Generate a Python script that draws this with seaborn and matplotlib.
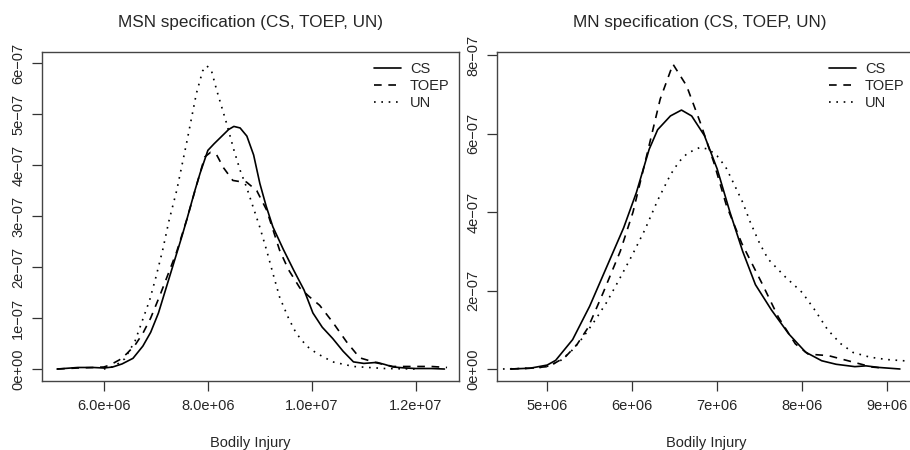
import matplotlib
matplotlib.use('Agg')
import matplotlib.pyplot as plt
import seaborn as sns
import pandas as pd

# density curves (x in 1e6, y in 1e-7)
msn_cs_x = [5.1, 5.5, 5.8, 6.0, 6.17, 6.35, 6.56, 6.75, 6.9, 7.05, 7.2, 7.35, 7.5, 7.6, 7.75,
            7.85, 8.0, 8.12, 8.25, 8.4, 8.5, 8.62, 8.75, 8.88, 9.0, 9.12, 9.25, 9.45, 9.65,
            9.85, 10.02, 10.2, 10.4, 10.6, 10.8, 11.0, 11.25, 11.4, 11.56, 11.8, 12.0, 12.3, 12.55]
msn_cs_y = [0.0, 0.03, 0.03, 0.02, 0.04, 0.1, 0.21, 0.45, 0.72, 1.1, 1.6, 2.1, 2.6, 2.95, 3.5,
            3.84, 4.29, 4.42, 4.55, 4.7, 4.76, 4.73, 4.57, 4.2, 3.64, 3.2, 2.79, 2.35, 1.94,
            1.55, 1.1, 0.82, 0.6, 0.35, 0.14, 0.11, 0.13, 0.09, 0.04, 0.02, 0.01, 0.01, 0.0]

msn_toep_x = [5.1, 5.5, 5.8, 6.0, 6.12, 6.3, 6.44, 6.6, 6.75, 6.9, 7.08, 7.25, 7.4, 7.6, 7.78,
              7.94, 8.05, 8.17, 8.3, 8.48, 8.6, 8.74, 8.94, 9.13, 9.38, 9.55, 9.77, 9.95,
              10.15, 10.4, 10.67, 10.92, 11.25, 11.56, 11.9, 12.3, 12.6]
msn_toep_y = [0.0, 0.02, 0.03, 0.04, 0.08, 0.18, 0.3, 0.47, 0.7, 1.0, 1.45, 1.9, 2.3, 2.95, 3.6,
              4.16, 4.25, 4.2, 3.95, 3.7, 3.68, 3.67, 3.5, 3.12, 2.33, 1.95, 1.59, 1.42,
              1.25, 0.92, 0.53, 0.22, 0.12, 0.05, 0.05, 0.05, 0.03]

msn_un_x = [6.0, 6.2, 6.4, 6.6, 6.88, 7.0, 7.13, 7.25, 7.4, 7.59, 7.78, 7.9, 7.98, 8.07, 8.17,
            8.36, 8.5, 8.62, 8.75, 8.87, 9.0, 9.13, 9.25, 9.38, 9.55, 9.7, 9.9, 10.09, 10.4,
            10.8, 11.4, 12.0]
msn_un_y = [0.0, 0.05, 0.2, 0.55, 1.35, 1.8, 2.33, 2.9, 3.5, 4.43, 5.41, 5.85, 5.95, 5.85, 5.47,
            4.82, 4.3, 3.9, 3.55, 3.18, 2.78, 2.33, 1.88, 1.41, 1.0, 0.7, 0.45, 0.31, 0.14,
            0.05, 0.01, 0.0]

mn_cs_x = [4.57, 4.8, 5.0, 5.1, 5.3, 5.5, 5.7, 5.9, 6.05, 6.2, 6.3, 6.45, 6.58, 6.7, 6.85,
           7.0, 7.15, 7.3, 7.45, 7.64, 7.84, 8.04, 8.23, 8.4, 8.62, 8.75, 8.9, 9.15]
mn_cs_y = [0.0, 0.02, 0.1, 0.22, 0.75, 1.6, 2.6, 3.6, 4.5, 5.6, 6.1, 6.45, 6.6, 6.45, 5.95,
           5.1, 4.0, 3.0, 2.15, 1.5, 0.9, 0.43, 0.21, 0.12, 0.06, 0.08, 0.04, 0.0]

mn_toep_x = [4.57, 4.8, 5.0, 5.09, 5.21, 5.35, 5.48, 5.66, 5.86, 6.01, 6.17, 6.33, 6.48, 6.64,
             6.8, 6.96, 7.11, 7.29, 7.53, 7.72, 7.92, 8.07, 8.31, 8.54, 8.82, 8.97]
mn_toep_y = [0.0, 0.02, 0.06, 0.15, 0.3, 0.62, 1.05, 1.95, 3.0, 4.0, 5.43, 6.88, 7.77, 7.22,
             6.29, 5.27, 4.16, 3.2, 2.17, 1.32, 0.64, 0.38, 0.34, 0.21, 0.05, 0.02]

mn_un_x = [4.48, 4.8, 4.98, 5.15, 5.29, 5.42, 5.56, 5.7, 5.84, 6.0, 6.15, 6.3, 6.45, 6.55,
           6.65, 6.8, 6.9, 7.0, 7.1, 7.19, 7.3, 7.39, 7.5, 7.6, 7.8, 8.0, 8.15, 8.3, 8.45,
           8.6, 8.8, 9.0, 9.45]
mn_un_y = [0.0, 0.02, 0.05, 0.2, 0.47, 0.8, 1.23, 1.7, 2.25, 2.9, 3.55, 4.3, 4.95, 5.28,
           5.5, 5.65, 5.6, 5.43, 5.15, 4.75, 4.25, 3.74, 3.2, 2.8, 2.35, 1.95, 1.5, 1.0, 0.65,
           0.42, 0.3, 0.24, 0.17]

models = ['CS', 'TOEP', 'UN']
styles = {'CS': '-', 'TOEP': (0, (4.6, 4.0)), 'UN': (0, (1, 3.4))}

left_xticks = [6e6, 8e6, 10e6, 12e6]
left_xlabels = ['6.0e+06', '8.0e+06', '1.0e+07', '1.2e+07']
left_yticks = [0, 1e-7, 2e-7, 3e-7, 4e-7, 5e-7, 6e-7]
left_ylabels = ['0e+00', '1e\u221207', '2e\u221207', '3e\u221207', '4e\u221207', '5e\u221207', '6e\u221207']
right_xticks = [5e6, 6e6, 7e6, 8e6, 9e6]
right_xlabels = ['5e+06', '6e+06', '7e+06', '8e+06', '9e+06']
right_yticks = [0, 2e-7, 4e-7, 6e-7, 8e-7]
right_ylabels = ['0e+00', '2e\u221207', '4e\u221207', '6e\u221207', '8e\u221207']

sns.set_style('ticks')
plt.rcParams['font.family'] = ['Liberation Sans', 'DejaVu Sans']
plt.rcParams['font.size'] = 10.5

W, H = 910, 450
fig = plt.figure(figsize=(W / 100, H / 100), dpi=100)
top, bottom = 52, 381
ax1 = fig.add_axes([42 / W, (H - bottom) / H, (459 - 42) / W, (bottom - top) / H])
ax2 = fig.add_axes([497 / W, (H - bottom) / H, (925 - 497) / W, (bottom - top) / H])


def makeFrame(xs, ys):
    rows = []
    for m, x, y in zip(models, xs, ys):
        for a, b in zip(x, y):
            rows.append({'x': a * 1e6, 'y': b * 1e-7, 'model': m})
    return pd.DataFrame(rows)


panels = [
    (ax1, makeFrame([msn_cs_x, msn_toep_x, msn_un_x], [msn_cs_y, msn_toep_y, msn_un_y]),
     'MSN specification (CS, TOEP, UN)', (4.81e6, 12.83e6), (-0.235e-7, 6.22e-7),
     left_xticks, left_xlabels, left_yticks, left_ylabels, 0.5, 0.5, 367),
    (ax2, makeFrame([mn_cs_x, mn_toep_x, mn_un_x], [mn_cs_y, mn_toep_y, mn_un_y]),
     'MN specification (CS, TOEP, UN)', (4.41e6, 9.445e6), (-0.306e-7, 8.08e-7),
     right_xticks, right_xlabels, right_yticks, right_ylabels,
     (700 - 497) / 428, (706 - 497) / 428, 822),
]

for ax, df, title, xl, yl, xt, xtl, yt, ytl, tx, lx, legx in panels:
    for m in models:
        sub = df[df['model'] == m]
        sns.lineplot(data=sub, x='x', y='y', ax=ax, color='black', lw=1.2,
                     linestyle=styles[m], label=m, legend=False)
    ax.set_xlim(*xl)
    ax.set_ylim(*yl)
    ax.set_xticks(xt)
    ax.set_xticklabels(xtl)
    ax.set_yticks(yt)
    ax.set_yticklabels(ytl, rotation=90, va='center')
    ax.tick_params(length=7, width=0.9, color='#333333', labelsize=10.5)
    ax.tick_params(axis='x', pad=6)
    ax.tick_params(axis='y', pad=5)
    for s in ax.spines.values():
        s.set_color('#444444')
        s.set_linewidth(1.0)
    ax.set_title(title, x=tx, pad=18, fontsize=12.3)
    ax.set_xlabel('Bodily Injury', fontsize=10.5)
    ax.set_ylabel('')
    ax.xaxis.set_label_coords(lx, (bottom - 436) / (bottom - top))
    ax.legend(loc='upper left', bbox_to_anchor=(legx / W, (H - 55) / H),
              bbox_transform=fig.transFigure, frameon=False, fontsize=10.5,
              handlelength=1.85, handletextpad=0.6, labelspacing=0.2, borderpad=0)

fig.savefig('out.png', dpi=100)
